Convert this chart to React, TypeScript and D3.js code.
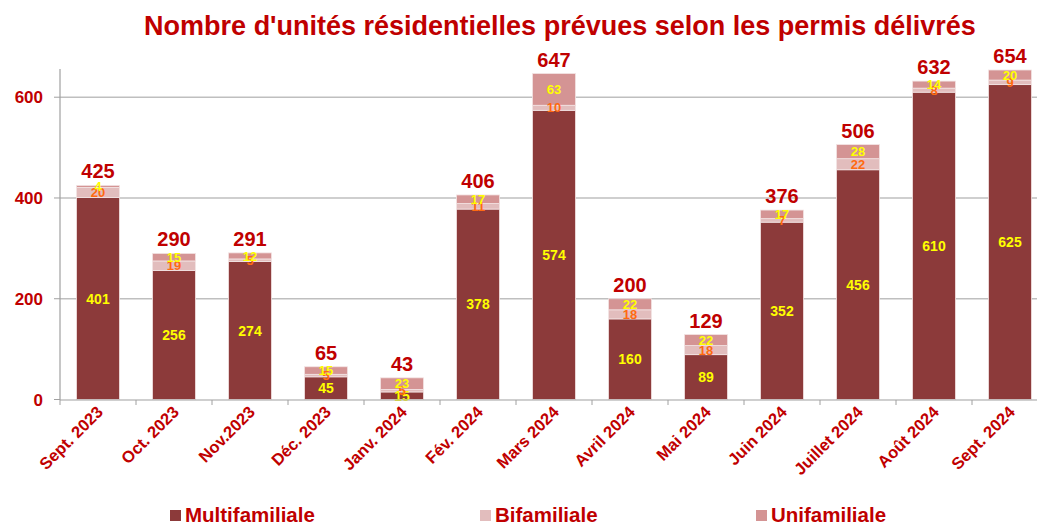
import React from 'react';
import * as d3 from 'd3';

const months = [
  'Sept. 2023', 'Oct. 2023', 'Nov.2023', 'Déc. 2023', 'Janv. 2024', 'Fév. 2024', 'Mars 2024',
  'Avril 2024', 'Mai 2024', 'Juin 2024', 'Juillet 2024', 'Août 2024', 'Sept. 2024',
];
const multifamiliale = [401, 256, 274, 45, 15, 378, 574, 160, 89, 352, 456, 610, 625];
const bifamiliale = [20, 19, 5, 5, 5, 11, 10, 18, 18, 7, 22, 8, 9];
const unifamiliale = [4, 15, 12, 15, 23, 17, 63, 22, 22, 17, 28, 14, 20];
const totals = [425, 290, 291, 65, 43, 406, 647, 200, 129, 376, 506, 632, 654];
const yTicks = [0, 200, 400, 600];

const seriesKeys = ['multi', 'bi', 'uni'];
const seriesNames = ['Multifamiliale', 'Bifamiliale', 'Unifamiliale'];
const fills = ['#8c3a3a', '#e2bdbd', '#d49494'];
const labelColors = ['#ffff00', '#ff6a10', '#ffff00'];
const red = '#c00000';
const font = "'Liberation Sans', Arial, sans-serif";

const W = 1037;
const H = 525;

export default function App() {
  const rows = months.map((m, i) => ({
    month: m,
    multi: multifamiliale[i],
    bi: bifamiliale[i],
    uni: unifamiliale[i],
    total: totals[i],
  }));

  const x = d3.scaleBand().domain(months).range([60, 1048]).paddingInner(0.434).paddingOuter(0.217);
  const y = d3.scaleLinear().domain([0, 656]).range([399.5, 69]);
  const stack = d3.stack<any>().keys(seriesKeys)(rows);

  const step = x.step();
  const boundaries = d3.range(months.length + 1).map((i) => 60 + i * step);

  return (
    <svg width={W} height={H} style={{ position: 'absolute', left: 0, top: 0, background: '#fff' }} fontFamily={font}>
      <text x={560} y={35} textAnchor="middle" fontSize={27} fontWeight="bold" fill={red}>
        Nombre d'unités résidentielles prévues selon les permis délivrés
      </text>

      {yTicks.map((t) => (
        <g key={t}>
          {t > 0 && <line x1={60} x2={W} y1={y(t)} y2={y(t)} stroke="#bfbfbf" strokeWidth={1.5} />}
          <line x1={54} x2={60} y1={y(t)} y2={y(t)} stroke="#a0a0a0" strokeWidth={1} />
          <text x={43} y={y(t)} dy="0.36em" textAnchor="end" fontSize={17} fontWeight="bold" fill={red}>
            {t}
          </text>
        </g>
      ))}

      {stack.map((layer, si) => (
        <g key={seriesKeys[si]}>
          {layer.map((d, i) => (
            <rect
              key={i}
              x={x(months[i])}
              width={x.bandwidth()}
              y={y(d[1])}
              height={y(d[0]) - y(d[1])}
              fill={fills[si]}
              stroke="#f3e4e4"
              strokeWidth={0.8}
            />
          ))}
        </g>
      ))}

      {stack.map((layer, si) => (
        <g key={'l' + seriesKeys[si]}>
          {layer.map((d, i) => (
            <text
              key={i}
              x={(x(months[i]) as number) + x.bandwidth() / 2}
              y={y((d[0] + d[1]) / 2)}
              dy="0.36em"
              textAnchor="middle"
              fontSize={si === 0 ? 14 : 13}
              fontWeight="bold"
              fill={labelColors[si]}
            >
              {d[1] - d[0]}
            </text>
          ))}
        </g>
      ))}

      {rows.map((r) => (
        <text
          key={'t' + r.month}
          x={(x(r.month) as number) + x.bandwidth() / 2}
          y={y(r.total) - 7}
          textAnchor="middle"
          fontSize={20}
          fontWeight="bold"
          fill={red}
        >
          {r.total}
        </text>
      ))}

      <line x1={60} x2={60} y1={69} y2={400} stroke="#a0a0a0" strokeWidth={1.2} />
      <line x1={60} x2={W} y1={400} y2={400} stroke="#a0a0a0" strokeWidth={1.2} />
      {boundaries.map((b, i) => (
        <line key={'b' + i} x1={b} x2={b} y1={400} y2={405} stroke="#a0a0a0" strokeWidth={1} />
      ))}

      {months.map((m) => {
        const cx = (x(m) as number) + x.bandwidth() / 2 + 6;
        return (
          <text
            key={'x' + m}
            transform={`translate(${cx},413) rotate(-45)`}
            textAnchor="end"
            fontSize={16.5}
            fontWeight="bold"
            fill={red}
          >
            {m}
          </text>
        );
      })}

      {seriesNames.map((n, i) => {
        const lx = [170, 480, 756][i];
        return (
          <g key={n}>
            <rect x={lx} y={510} width={11} height={11} fill={fills[i]} />
            <text x={lx + 15} y={522} fontSize={20.5} fontWeight="bold" fill={red}>
              {n}
            </text>
          </g>
        );
      })}
    </svg>
  );
}
